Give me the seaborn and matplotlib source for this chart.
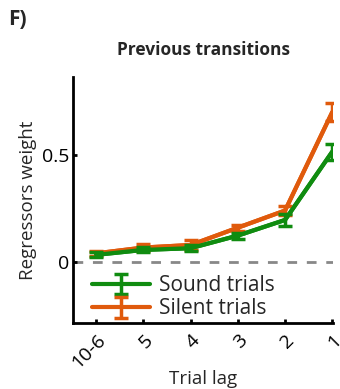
import matplotlib
matplotlib.use("Agg")
import matplotlib.pyplot as plt
import seaborn as sns
import pandas as pd
import numpy as np

lags = ["10-6", "5", "4", "3", "2", "1"]
sound_mean = [0.033, 0.056, 0.064, 0.123, 0.196, 0.515]
sound_err = [0.012, 0.012, 0.014, 0.014, 0.030, 0.037]
silent_mean = [0.040, 0.067, 0.079, 0.160, 0.240, 0.700]
silent_err = [0.012, 0.015, 0.022, 0.014, 0.022, 0.042]

green = "#108c10"
orange = "#e05a0c"

sns.set_style("ticks")
plt.rcParams["font.family"] = ["Open Sans", "DejaVu Sans"]

fig = plt.figure(figsize=(3.4, 3.89), dpi=100)
ax = fig.add_axes([0.215, 0.170, 0.765, 0.632])

x = np.arange(len(lags))
df = pd.DataFrame({
    "x": np.concatenate([x, x]),
    "w": sound_mean + silent_mean,
    "cond": ["Sound trials"] * len(lags) + ["Silent trials"] * len(lags),
})

ax.axhline(0, color="#888888", lw=2, ls=(0, (3.5, 3.5)), zorder=0)

sns.lineplot(data=df, x="x", y="w", hue="cond",
             palette={"Sound trials": green, "Silent trials": orange},
             hue_order=["Silent trials", "Sound trials"],
             lw=3, legend=False, ax=ax, zorder=2)

ax.errorbar(x, sound_mean, yerr=sound_err, color=green, lw=3, capsize=5,
            capthick=2.5, elinewidth=2.5, label="Sound trials", zorder=3)
ax.errorbar(x, silent_mean, yerr=silent_err, color=orange, lw=3, capsize=5,
            capthick=2.5, elinewidth=2.5, label="Silent trials", zorder=2)

ax.set_xlim(-0.49, 5.02)
ax.set_ylim(-0.285, 0.864)
ax.set_xticks(x)
ax.set_xticklabels(lags, rotation=45, fontsize=14, ha="right",
                   rotation_mode="anchor")
ax.set_yticks([0, 0.5])
ax.set_yticklabels(["0", "0.5"], fontsize=14)
ax.tick_params(axis="both", width=2, length=3, direction="in", colors="black")
ax.tick_params(axis="x", pad=6)
ax.tick_params(axis="y", pad=3)
for s in ["left", "bottom"]:
    ax.spines[s].set_linewidth(2)
    ax.spines[s].set_color("black")
sns.despine(ax=ax)

ax.set_xlabel("Trial lag", fontsize=13.5)
ax.xaxis.set_label_coords(0.5, -0.19)
ax.set_ylabel("Regressors weight", fontsize=13.5)
ax.yaxis.set_label_coords(-0.138, 0.5)
ax.set_title("Previous transitions", fontsize=12.5, fontweight="bold", pad=16)

ax.legend(loc="lower left", bbox_to_anchor=(0.04, -0.02), frameon=False,
          fontsize=15, handlelength=2.8, handletextpad=0.4, labelspacing=0.1,
          borderaxespad=0.0)

fig.text(0.025, 0.935, "F)", fontsize=15, fontweight="bold")

fig.savefig("out.png", dpi=100)
